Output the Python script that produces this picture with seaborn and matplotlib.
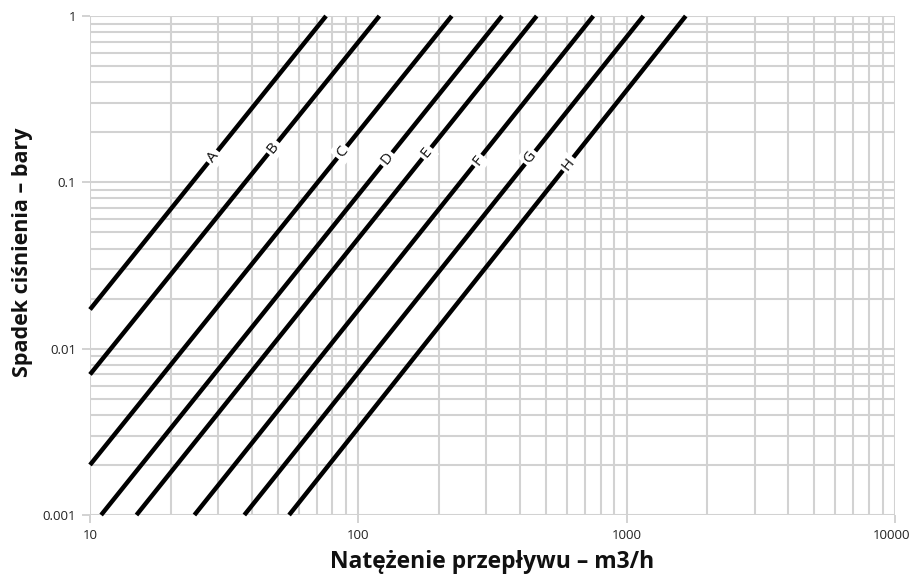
import numpy as np
import pandas as pd
import matplotlib
matplotlib.use("Agg")
import matplotlib.pyplot as plt
import matplotlib.transforms as mtransforms
import seaborn as sns
from matplotlib.ticker import FixedLocator, LogLocator, NullFormatter

# valve curves: (flow, pressure drop) at both ends of each line
names = ["A", "B", "C", "D", "E", "F", "G", "H"]
flow_start = [10, 10, 10, 11.0, 14.9, 24.5, 37.6, 55.2]
dp_start = [0.0172, 0.0070, 0.0020, 0.001, 0.001, 0.001, 0.001, 0.001]
flow_end = [75.8, 119.8, 222.9, 343, 462, 751, 1154, 1660]
dp_end = [1, 1, 1, 1, 1, 1, 1, 1]
label_flow = [28.7, 48.1, 86.9, 128, 180, 279, 437, 605]

x_ticks = [10, 100, 1000, 10000]
x_ticklabels = ["10", "100", "1000", "10000"]
y_ticks = [0.001, 0.01, 0.1, 1]
y_ticklabels = ["0.001", "0.01", "0.1", "1"]

rows = []
for n, q0, p0, q1, p1 in zip(names, flow_start, dp_start, flow_end, dp_end):
    rows.append({"line": n, "flow": q0, "dp": p0})
    rows.append({"line": n, "flow": q1, "dp": p1})
df = pd.DataFrame(rows)

sns.set_style("white")
plt.rcParams["font.family"] = ["Open Sans", "DejaVu Sans"]

grid_col = "#d2d2d2"
fig = plt.figure(figsize=(9.13, 5.8), dpi=100)
ax = fig.add_axes([90 / 913, 1 - 515 / 580, 805 / 913, 499 / 580])

ax.set_xscale("log")
ax.set_yscale("log")
ax.set_xlim(10, 10000)
ax.set_ylim(0.001, 1)

ax.xaxis.set_major_locator(FixedLocator(x_ticks))
ax.yaxis.set_major_locator(FixedLocator(y_ticks))
ax.set_xticklabels(x_ticklabels)
ax.set_yticklabels(y_ticklabels)
ax.xaxis.set_minor_locator(LogLocator(base=10, subs=np.arange(2, 10)))
ax.yaxis.set_minor_locator(LogLocator(base=10, subs=np.arange(2, 10)))
ax.xaxis.set_minor_formatter(NullFormatter())
ax.yaxis.set_minor_formatter(NullFormatter())

ax.grid(True, which="both", color=grid_col, linewidth=1.5, zorder=0)
ax.set_axisbelow(True)
ax.tick_params(which="major", length=6, width=1.4, color=grid_col,
               labelsize=9.5, labelcolor="#222222", pad=4, left=True, bottom=True)
ax.tick_params(which="minor", length=0)
for s in ax.spines.values():
    s.set_visible(False)

# keep the last x tick label inside the picture
last = ax.get_xticklabels()[-1]
last.set_transform(last.get_transform() + mtransforms.ScaledTranslation(-3 / 100, 0, fig.dpi_scale_trans))

sns.lineplot(data=df, x="flow", y="dp", units="line", estimator=None, sort=False,
             color="black", linewidth=3.2, ax=ax, legend=False)
for l in ax.get_lines():
    l.set_solid_capstyle("butt")
    l.set_clip_on(False)

# letter labels sitting on the lines
for n, q0, p0, q1, p1, qx in zip(names, flow_start, dp_start, flow_end, dp_end, label_flow):
    a = ax.transData.transform((q0, p0))
    b = ax.transData.transform((q1, p1))
    ang = np.degrees(np.arctan2(b[1] - a[1], b[0] - a[0]))
    t = (np.log10(qx) - np.log10(q0)) / (np.log10(q1) - np.log10(q0))
    py = 10 ** (np.log10(p0) + t * (np.log10(p1) - np.log10(p0)))
    ax.text(qx, py, n, rotation=ang, rotation_mode="anchor", ha="center", va="center",
            fontsize=11, color="#111111", zorder=5,
            bbox=dict(facecolor="white", edgecolor="none", pad=2))

ax.set_xlabel("Natężenie przepływu – m3/h", fontsize=16.5, fontweight="bold",
              color="#111111", labelpad=6)
ax.set_ylabel("Spadek ciśnienia – bary", fontsize=15.5, fontweight="bold",
              color="#111111")
ax.yaxis.set_label_coords(-0.071, 0.527)

fig.savefig("out.png", dpi=100)
